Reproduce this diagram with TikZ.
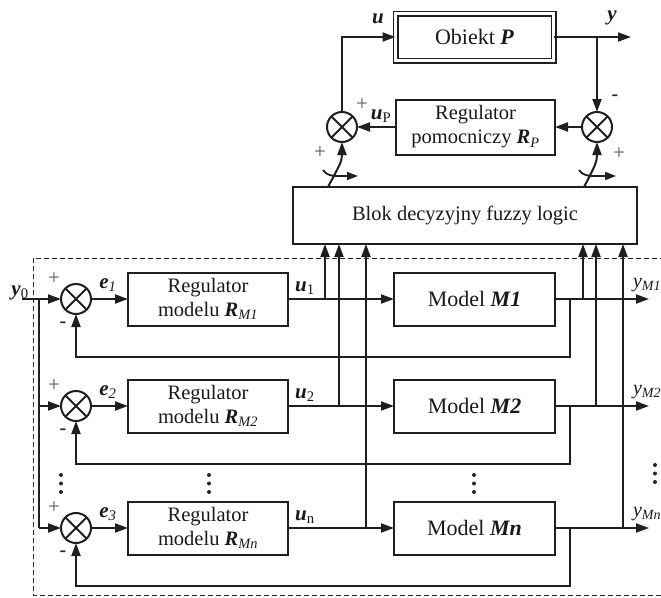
\documentclass[tikz,border=0pt]{standalone}
\usepackage{fontspec}
\setmainfont{Liberation Serif}
\usetikzlibrary{arrows.meta}
\newcommand{\bi}[1]{\textbf{\textit{#1}}}
\newcommand{\sumx}[1]{\draw[ln] (#1.45)--(#1.225) (#1.135)--(#1.315);}
\begin{document}
\begin{tikzpicture}[x=1pt,y=-1pt,
  every node/.style={inner sep=0pt, outer sep=0pt},
  ln/.style={line width=2pt, draw=black!88},
  arr/.style={ln,-{Triangle[length=13pt,width=9pt]}},
  sarr/.style={ln,line width=1.8pt,-{Triangle[length=11pt,width=8pt]}},
  blk/.style={draw=black!88,line width=2pt,align=center,text=black!90,font=\fontsize{20.5}{24}\selectfont},
  mdl/.style={draw=black!88,line width=2pt,align=center,text=black!90,font=\fontsize{22}{24}\selectfont},
  sumc/.style={circle,draw=black!88,line width=2pt,minimum size=30pt},
  lab/.style={font=\fontsize{21}{22}\selectfont,text=black!90},
  sgn/.style={font=\fontsize{21}{22}\selectfont,text=black!65},
  msg/.style={font=\bfseries\fontsize{20}{22}\selectfont,text=black!85},
  dotc/.style={circle,fill=black!85,minimum size=4pt}]
\useasboundingbox (0,0) rectangle (661,597);
\clip (0,0) rectangle (661,597);
% top part
\node[mdl, draw=black!88, line width=1.8pt, double=white, double distance=2.4pt, minimum width=158pt, minimum height=47pt] (obj) at (474.5,37) {Obiekt \bi{P}};
\node[sumc] (sL) at (342,127) {}; \sumx{sL}
\node[sumc] (sR) at (597,127) {}; \sumx{sR}
\node[blk, minimum width=159pt, minimum height=55pt] (rp) at (475.5,127) {Regulator\\pomocniczy \bi{R}\textsubscript{\textit{P}}};
\node[blk, minimum width=344pt, minimum height=57pt] (blok) at (465,215.5) {Blok decyzyjny fuzzy logic};
\coordinate (yend) at (631,37);
\draw[arr] (obj.east) -- (yend);
\draw[arr] (obj.east -| sR) -- (sR.north);
\draw[arr] (sL.north) |- (obj.west);
\draw[arr] (sR.west) -- (rp.east);
\draw[arr] (rp.west) -- (sL.east);
\node[lab] at (378,19) {\bi{u}};
\node[lab] at (612,18) {\bi{y}};
\node[lab] at (381,116) {\bi{u}\textsubscript{P}};
\node[sgn] at (362,105) {+};
\node[sgn] at (320,153) {+};
\node[msg] at (615,98) {-};
\node[sgn] at (619,154) {+};
% switches
\coordinate (swL) at (328,187);
\coordinate (swR) at (584,187);
\draw[arr] (swL) .. controls (339,166) and (342,162) .. (sL.south);
\draw[arr] (swR) .. controls (595,166) and (597,162) .. (sR.south);
\coordinate (cL1) at (323,170); \coordinate (cL2) at (358,176);
\coordinate (cR1) at (579,170); \coordinate (cR2) at (616,176);
\draw[sarr] (cL1) .. controls (328,177) and (335,176) .. (cL2);
\draw[sarr] (cR1) .. controls (584,177) and (591,176) .. (cR2);
% dashed frame
\draw[line width=1pt, draw=black!85, dash pattern=on 5pt off 3pt] (33,258) rectangle (700,595);
% rows
\foreach \i/\yy/\sub/\usub/\msub in {1/299/M1/1/M1, 2/406/M2/2/M2, 3/528/Mn/n/Mn}{
  \node[sumc] (s\i) at (76,\yy) {}; \sumx{s\i}
  \node[blk, minimum width=160pt, minimum height=53pt] (r\i) at (208,\yy) {Regulator\\modelu \bi{R}\textsubscript{\textit{\sub}}};
  \node[mdl, minimum width=161pt, minimum height=53pt] (m\i) at (474.5,\yy) {Model \bi{\msub}};
  \draw[arr] (s\i.east) -- (r\i.west);
  \draw[arr] (r\i.east) -- (m\i.west);
  \coordinate (o\i) at (649,\yy);
  \draw[arr] (m\i.east) -- (o\i);
  \coordinate (f\i) at (570,\yy);
  \draw[arr] (f\i) -- ++(0,58) -| (s\i.south);
  \node[sgn] at (54,\yy-20) {+};
  \node[msg] at (63,\yy+26) {-};
  \node[lab] at (108,\yy-14) {\bi{e}\textsubscript{\textit{\i}}};
  \node[lab] at (305,\yy-11) {\bi{u}\textsubscript{\usub}};
  \node[lab, anchor=base west, font=\fontsize{20}{22}\selectfont] at (633,\yy-12) {\textit{y}\textsubscript{\textit{\sub}}};
}
% input
\coordinate (in) at (22,299);
\coordinate (dist) at (39,299);
\node[lab, anchor=south] at (20,300) {\bi{y}\textsubscript{0}};
\draw[arr] (in) -- (s1.west);
\draw[ln] (dist) -- (dist |- s3.west);
\draw[arr] (dist |- s2.west) -- (s2.west);
\draw[arr] (dist |- s3.west) -- (s3.west);
% taps to blok
\coordinate (t1) at (325,299); \coordinate (t2) at (339,406); \coordinate (t3) at (366,528);
\coordinate (q1) at (583,299); \coordinate (q2) at (596,406); \coordinate (q3) at (623,528);
\foreach \t in {t1,t2,t3,q1,q2,q3}{ \draw[arr] (\t) -- (\t |- blok.south); }
% dots
\foreach \x/\y in {61/475, 209/475, 474/475, 655/465}{
  \foreach \d in {0,8.5,17}{ \node[dotc] at (\x,\y+\d) {}; }
}
\end{tikzpicture}
\end{document}
